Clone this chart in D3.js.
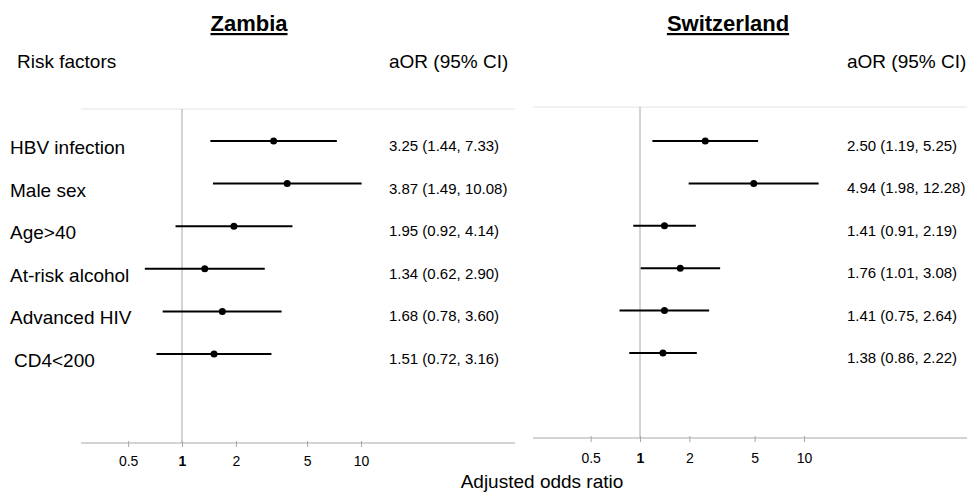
<!DOCTYPE html>
<html><head><meta charset="utf-8">
<script src="https://cdn.jsdelivr.net/npm/d3@7"></script>
<style>
html,body{margin:0;padding:0;background:#fff;}
text{font-family:"Liberation Sans",Arial,Helvetica,sans-serif;fill:#000;}
</style></head>
<body><svg id="c" width="967" height="493"></svg>
<script>
const riskFactors = ["HBV infection","Male sex","Age>40","At-risk alcohol","Advanced HIV","CD4<200"];
const zambiaOR    = [3.25, 3.87, 1.95, 1.34, 1.68, 1.51];
const zambiaLo    = [1.44, 1.49, 0.92, 0.62, 0.78, 0.72];
const zambiaHi    = [7.33, 10.08, 4.14, 2.90, 3.60, 3.16];
const swissOR     = [2.50, 4.94, 1.41, 1.76, 1.41, 1.38];
const swissLo     = [1.19, 1.98, 0.91, 1.01, 0.75, 0.86];
const swissHi     = [5.25, 12.28, 2.19, 3.08, 2.64, 2.22];
const tickValues  = [0.5, 1, 2, 5, 10];

const svg = d3.select("#c");

const panels = [
  {title:"Zambia", titleX:249, or:zambiaOR, lo:zambiaLo, hi:zambiaHi,
   x0:81, x1:515, xAt1:182, xAt10:361, top:109, axisY:443, rowY0:141, rowY1:354,
   valX:389, headX:389, showLabels:true, tickLabelOff:23},
  {title:"Switzerland", titleX:728, or:swissOR, lo:swissLo, hi:swissHi,
   x0:533, x1:967, xAt1:640, xAt10:804, top:107, axisY:438, rowY0:141, rowY1:353,
   valX:847, headX:847, showLabels:false, tickLabelOff:25}
];

const fmt = d3.format(".2f");

panels.forEach(p => {
  const g = svg.append("g");
  const x = d3.scaleLog().domain([1,10]).range([p.xAt1, p.xAt10]);
  const y = d3.scalePoint().domain(riskFactors).range([p.rowY0, p.rowY1]);

  g.append("text").attr("x", p.titleX).attr("y", 31).attr("text-anchor","middle")
    .attr("font-size", 22).attr("font-weight","bold").attr("text-decoration","underline")
    .text(p.title);
  if (p.showLabels) {
    g.append("text").attr("x", 17).attr("y", 68).attr("font-size", 19).text("Risk factors");
  }
  g.append("text").attr("x", p.headX).attr("y", 68).attr("font-size", 19).text("aOR (95% CI)");

  g.append("line").attr("x1", p.x0).attr("x2", p.x1).attr("y1", p.top).attr("y2", p.top)
    .attr("stroke", "#e2e2e2").attr("stroke-width", 1);
  g.append("line").attr("x1", x(1)).attr("x2", x(1)).attr("y1", p.top).attr("y2", p.axisY)
    .attr("stroke", "#a8a8a8").attr("stroke-width", 1);
  g.append("line").attr("x1", p.x0).attr("x2", p.x1).attr("y1", p.axisY).attr("y2", p.axisY)
    .attr("stroke", "#a8a8a8").attr("stroke-width", 1);
  const ax = g.append("g").attr("transform", `translate(0,${p.axisY - 2})`)
    .call(d3.axisBottom(x).tickValues(tickValues).tickSize(6).tickSizeOuter(0)
      .tickFormat(d => String(d)));
  ax.select(".domain").remove();
  ax.selectAll(".tick line").attr("stroke", "#a8a8a8");
  ax.selectAll(".tick text").attr("font-size", 14).attr("dy", null)
    .attr("y", p.tickLabelOff + 2)
    .attr("font-family", '"Liberation Sans",Arial,sans-serif').attr("fill", "#000")
    .attr("font-weight", d => d === 1 ? "bold" : "normal");

  riskFactors.forEach((rf, i) => {
    const yy = y(rf);
    if (p.showLabels) {
      g.append("text").attr("x", i === 5 ? 14 : 10).attr("y", yy + 13).attr("font-size", 19).text(rf);
    }
    g.append("line").attr("x1", x(p.lo[i])).attr("x2", x(p.hi[i])).attr("y1", yy).attr("y2", yy)
      .attr("stroke", "#000").attr("stroke-width", 2);
    g.append("circle").attr("cx", x(p.or[i])).attr("cy", yy).attr("r", 3.5).attr("fill", "#000");
    g.append("text").attr("x", p.valX).attr("y", yy + 10).attr("font-size", 15)
      .text(`${fmt(p.or[i])} (${fmt(p.lo[i])}, ${fmt(p.hi[i])})`);
  });
});

svg.append("text").attr("x", 542).attr("y", 488).attr("text-anchor","middle")
  .attr("font-size", 19).text("Adjusted odds ratio");
</script>
</body></html>
